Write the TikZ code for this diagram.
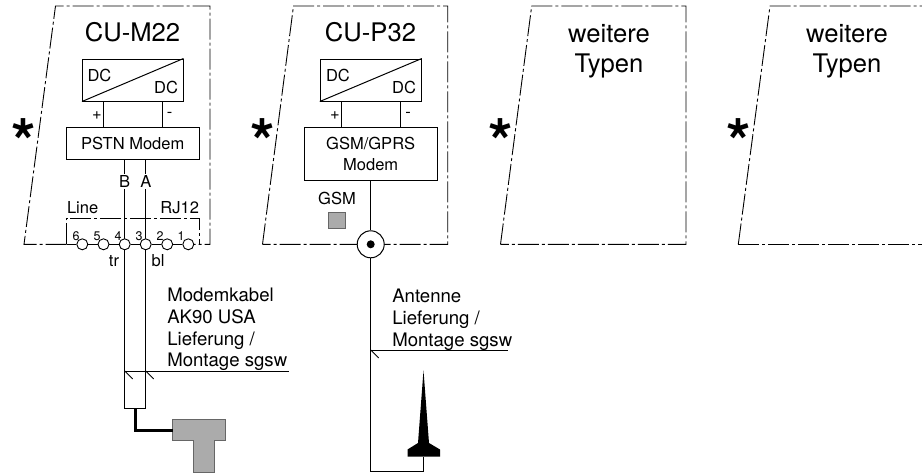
\documentclass[tikz,border=0pt]{standalone}
\usepackage{fontspec}
\setmainfont{TeX Gyre Heros}
\newcommand{\fsS}{\fontsize{16.5}{20}\selectfont}
\newcommand{\fsM}{\fontsize{18.6}{21.5}\selectfont}
\newcommand{\fsL}{\fontsize{25.6}{30}\selectfont}
\newcommand{\fsD}{\fontsize{12.5}{14}\selectfont}
\tikzset{
  wire/.style={draw=black,line width=1pt},
  thin wire/.style={draw=black,line width=0.8pt},
  housing/.style={draw=black,line width=0.9pt,dash pattern=on 21pt off 3pt on 3pt off 3pt},
  blockbox/.style={draw=black,line width=1pt,fill=white,rectangle,inner sep=0pt},
  txt/.style={inner sep=0pt,outer sep=0pt},
  term/.style={circle,draw=black,line width=0.9pt,fill=white,minimum size=11pt,inner sep=0pt},
  grayfill/.style={fill=black!33,draw=black!60,line width=0.8pt},
  starmark/.style={inner sep=0pt,font=\fontsize{63}{63}\selectfont\bfseries,text height=0pt,text depth=0pt}
}
\begin{document}
\begin{tikzpicture}[x=1pt,y=-1pt]
\useasboundingbox (0,0) rectangle (922,474);
\clip (0,0) rectangle (922,474);
% housings
\coordinate (h1a) at (66.5,244.3);
\coordinate (h1b) at (194,244.3);
\draw[housing] (h1a) -- (24,244.3) -- (55.5,6) -- (210,6) -- (210,244.3) -- (h1b);
\draw[housing] (262.5,244.3) -- (293.5,6) -- (447.7,6) -- (447.7,244.3) -- (262.5,244.3);
\draw[housing] (500.5,244.3) -- (531.7,6) -- (686,6) -- (686,244.3) -- (500.5,244.3);
\draw[housing] (738.3,244.3) -- (770,6) -- (922,6);
\draw[housing] (738.3,244.3) -- (922,244.3);
% stars
\node[starmark,anchor=base] (s1) at (24,164) {*};
\node[starmark,anchor=base] (s2) at (262.5,164) {*};
\node[starmark,anchor=base] (s3) at (501,164) {*};
\node[starmark,anchor=base] (s4) at (739,164) {*};
% titles
\node[txt,anchor=base,font=\fsL] (t1) at (132.5,41.7) {CU-M22};
\node[txt,anchor=base,font=\fsL] (t2) at (370.5,41.7) {CU-P32};
\node[txt,anchor=base,font=\fsL] (t3a) at (609,42) {weitere};
\node[txt,anchor=base,font=\fsL] (t3b) at (609,72.3) {Typen};
\node[txt,anchor=base,font=\fsL] (t4a) at (847,42) {weitere};
\node[txt,anchor=base,font=\fsL] (t4b) at (847,72.3) {Typen};
% CU-M22 blocks
\node[blockbox,minimum width=100.5pt,minimum height=42pt] (dc1) at (132.75,80) {};
\draw[wire] (dc1.south west) -- (dc1.north east);
\node[txt,anchor=base west,font=\fsS] (dc1a) at (87.5,81) {DC};
\node[txt,anchor=base east,font=\fsS] (dc1b) at (178,93) {DC};
\node[blockbox,minimum width=132.5pt,minimum height=32pt,font=\fsS] (pm) at (132.75,143.5) {PSTN Modem};
\coordinate (p1) at (103.5,0); \coordinate (m1) at (162,0);
\draw[wire] (dc1.south -| p1) -- (pm.north -| p1);
\draw[wire] (dc1.south -| m1) -- (pm.north -| m1);
\node[txt,font=\fsS] (pl1) at (97,116) {+};
\node[txt,font=\fsS] (mi1) at (169.5,115) {-};
% terminal strip
\draw[housing] (h1a) -- (66.5,218) -- (199,218) -- (199,244.3);
\coordinate (xb) at (124.7,0); \coordinate (xa) at (145.7,0);
\coordinate (cb) at (124.7,408); \coordinate (ca) at (145.7,408);
\draw[wire] (pm.south -| xb) -- (cb) -- (ca) -- (pm.south -| xa);
\node[txt,fill=white,anchor=base,font=\fsS,inner ysep=1.5pt] (lb) at (124.7,187.5) {B};
\node[txt,fill=white,anchor=base,font=\fsS,inner ysep=1.5pt] (la) at (146,187.5) {A};
\node[txt,anchor=base west,font=\fsS] (line) at (67,213) {Line};
\node[txt,anchor=base east,font=\fsS] (rj) at (199,213) {RJ12};
\node[term] (k6) at (82.3,244.3) {};
\node[term] (k5) at (103.5,244.3) {};
\node[term] (k4) at (124.7,244.3) {};
\node[term] (k3) at (145.7,244.3) {};
\node[term] (k2) at (167.2,244.3) {};
\node[term] (k1) at (188.3,244.3) {};
\draw[wire] (h1a) -- (k6) -- (k5) -- (k4) -- (k3) -- (k2) -- (k1) -- (h1b);
\foreach \n/\x/\d in {6/76/6,5/97/5,4/118/4,3/139/3,2/160/2,1/181/1}
  \node[txt,anchor=base,font=\fsD] (d\n) at (\x,240) {\d};
\node[txt,anchor=base,font=\fsS] (tr) at (114,266) {tr};
\node[txt,anchor=base,font=\fsS] (bl) at (158,266) {bl};
% modem cable annotation
\node[txt,anchor=base west,font=\fsM] (c1) at (167.3,301.7) {Modemkabel};
\node[txt,anchor=base west,font=\fsM] (c2) at (167.3,323.3) {AK90 USA};
\node[txt,anchor=base west,font=\fsM] (c3) at (167.3,345.3) {Lieferung /};
\node[txt,anchor=base west,font=\fsM] (c4) at (167.3,366.7) {Montage sgsw};
\coordinate (la1) at (289,371);
\coordinate (la2) at (124.7,371);
\coordinate (la3) at (145.7,371);
\draw[thin wire] (la2) -- (la1);
\draw[thin wire] (la2) -- ++(8,8);
\draw[thin wire] (la3) -- ++(8,8);
% plug
\fill[grayfill] (172.5,419) -- (225.5,419) -- (225.5,440) -- (214.5,440) -- (214.5,472) -- (193.7,472) -- (193.7,440) -- (172.5,440) -- cycle;
\coordinate (pg) at (172.5,430);
\draw[line width=3pt] (135,408) -- (135,430) -- (pg);
% CU-P32 blocks
\node[blockbox,minimum width=101pt,minimum height=42pt] (dc2) at (370.8,80) {};
\draw[wire] (dc2.south west) -- (dc2.north east);
\node[txt,anchor=base west,font=\fsS] (dc2a) at (326,81) {DC};
\node[txt,anchor=base east,font=\fsS] (dc2b) at (416,93) {DC};
\node[blockbox,minimum width=132.7pt,minimum height=53pt,font=\fsS,align=center] (gm) at (370.7,154) {GSM/GPRS\\[1pt]Modem};
\coordinate (p2) at (341.5,0); \coordinate (m2) at (400,0);
\draw[wire] (dc2.south -| p2) -- (gm.north -| p2);
\draw[wire] (dc2.south -| m2) -- (gm.north -| m2);
\node[txt,font=\fsS] (pl2) at (335,116) {+};
\node[txt,font=\fsS] (mi2) at (408,115) {-};
\node[txt,anchor=base,font=\fsS] (gs) at (337,204) {GSM};
\fill[grayfill] (328.3,212.5) rectangle (345,228.5);
% coax jack
\node[circle,draw=black,line width=1pt,fill=white,minimum size=27pt,inner sep=0pt] (jack) at (370.7,244.3) {};
\fill (jack.center) circle (4pt);
\coordinate (ac) at (370.7,471.7);
\coordinate (ad) at (423.5,471.7);
\coordinate (ae) at (423.5,456.5);
\draw[wire] (gm.south) -- (jack.north);
\draw[wire] (jack.south) -- (ac) -- (ad) -- (ae);
% antenna
\fill (423.5,370.5) -- (429,443) -- (440,449.5) -- (440,456.7) -- (407.5,456.7) -- (407.5,449.5) -- (418,443) -- cycle;
\node[txt,anchor=base west,font=\fsM] (a1) at (392.3,302.7) {Antenne};
\node[txt,anchor=base west,font=\fsM] (a2) at (392.3,324) {Lieferung /};
\node[txt,anchor=base west,font=\fsM] (a3) at (392.3,346) {Montage sgsw};
\coordinate (lb1) at (370.7,350);
\coordinate (lb2) at (507.7,350);
\draw[thin wire] (lb1) -- (lb2);
\draw[thin wire] (lb1) -- ++(8,8);
\end{tikzpicture}
\end{document}
